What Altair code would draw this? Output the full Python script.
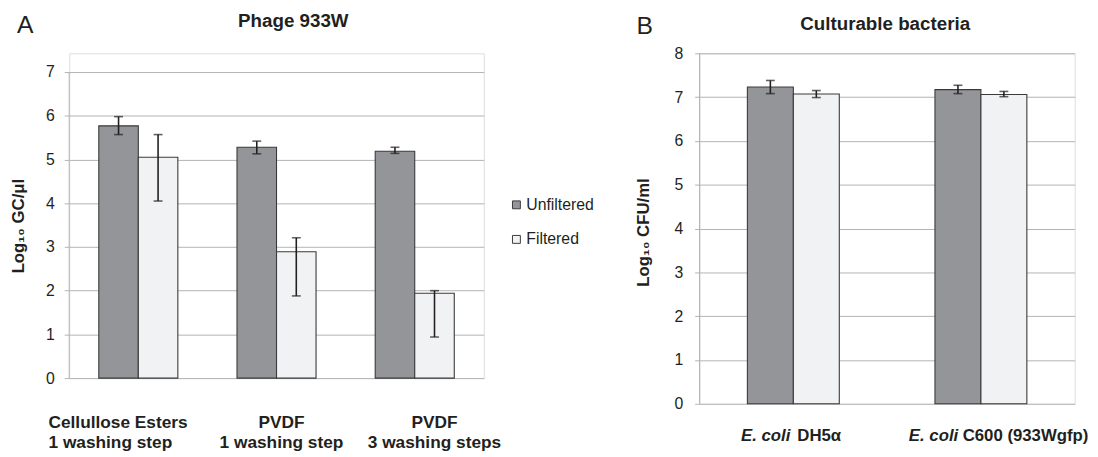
import altair as alt
import pandas as pd

FONT = "Liberation Sans"
INK = "#231f20"
GRID = "#b3b3b3"
BARSTROKE = "#3a3a3a"
SERIES = ["Unfiltered", "Filtered"]
FILLS = ["#939598", "#f1f2f3"]

# ---------------- Panel A data ----------------
a_groups = ["CE1", "PVDF1", "PVDF3"]
a_labels = ["Cellullose Esters\n1 washing step", "PVDF\n1 washing step", "PVDF\n3 washing steps"]
a_unf = [5.77, 5.28, 5.19]
a_unf_lo = [5.57, 5.13, 5.14]
a_unf_hi = [5.98, 5.42, 5.28]
a_fil = [5.05, 2.89, 1.94]
a_fil_lo = [4.05, 1.88, 0.94]
a_fil_hi = [5.57, 3.21, 2.00]
a_ticks = [0, 1, 2, 3, 4, 5, 6, 7]

# ---------------- Panel B data ----------------
b_groups = ["DH5a", "C600"]
b_italic = ["E. coli", "E. coli"]
b_rest = ["DH5α", "C600 (933Wgfp)"]
b_unf = [7.23, 7.17]
b_unf_lo = [7.08, 7.08]
b_unf_hi = [7.38, 7.27]
b_fil = [7.07, 7.06]
b_fil_lo = [6.99, 7.01]
b_fil_hi = [7.15, 7.13]
b_ticks = [0, 1, 2, 3, 4, 5, 6, 7, 8]


def long_table(groups, unf, ulo, uhi, fil, flo, fhi):
    rows = []
    for i, g in enumerate(groups):
        rows.append(dict(group=g, series=SERIES[0], value=unf[i], lo=ulo[i], hi=uhi[i]))
        rows.append(dict(group=g, series=SERIES[1], value=fil[i], lo=flo[i], hi=fhi[i]))
    return pd.DataFrame(rows)


dfA = long_table(a_groups, a_unf, a_unf_lo, a_unf_hi, a_fil, a_fil_lo, a_fil_hi)
dfB = long_table(b_groups, b_unf, b_unf_lo, b_unf_hi, b_fil, b_fil_lo, b_fil_hi)
labA = pd.DataFrame({"group": a_groups, "label": a_labels})
labB = pd.DataFrame({"group": b_groups, "it": b_italic, "rest": b_rest})


def bars_layer(df, groups, pin, pout, ydom, ticks, ytitle, tpad, lpad, title_y, legend):
    xenc = alt.X("group:N", sort=groups, axis=None,
                 scale=alt.Scale(paddingInner=pin, paddingOuter=pout))
    xoff = alt.XOffset("series:N", sort=SERIES,
                       scale=alt.Scale(paddingInner=0, paddingOuter=0))
    yaxis = alt.Axis(values=ticks, title=ytitle, grid=True, gridColor=GRID,
                     domain=False, tickColor=GRID, tickSize=5,
                     labelFont=FONT, labelFontSize=16, labelColor=INK,
                     labelPadding=lpad, titleFont=FONT, titleFontSize=17,
                     titleFontWeight="bold", titleColor=INK, titlePadding=tpad,
                     titleY=title_y)
    base = alt.Chart(df).encode(x=xenc, xOffset=xoff)
    bars = base.mark_bar(stroke=BARSTROKE, strokeWidth=1.1).encode(
        y=alt.Y("value:Q", scale=alt.Scale(domain=ydom, nice=False, zero=True), axis=yaxis),
        color=alt.Color("series:N", sort=SERIES,
                        scale=alt.Scale(domain=SERIES, range=FILLS), legend=legend),
    )
    rule = base.mark_rule(color=INK, strokeWidth=1.6).encode(y="lo:Q", y2="hi:Q")
    cap_lo = base.mark_tick(color=INK, thickness=1.6, size=9).encode(y="lo:Q")
    cap_hi = base.mark_tick(color=INK, thickness=1.6, size=9).encode(y="hi:Q")
    # vertical axis line spanning only the tick range
    axis_line = alt.Chart(pd.DataFrame({"a": [ticks[0]], "b": [ticks[-1]]})).mark_rule(
        color=GRID, strokeWidth=1).encode(x=alt.value(0), y="a:Q", y2="b:Q")
    return [bars, axis_line, rule, cap_lo, cap_hi], xenc


def note(text, x, y, size, weight="normal"):
    return alt.Chart(pd.DataFrame({"t": [text]})).mark_text(
        font=FONT, fontSize=size, fontWeight=weight, color=INK, align="center",
        baseline="alphabetic").encode(text="t:N", x=alt.value(x), y=alt.value(y))


# ---------------- Panel A ----------------
WA, HA = 420, 329
legA = alt.Legend(title=None, orient="none", legendX=445, legendY=145.5,
                  symbolType="square", symbolSize=64, symbolStrokeColor=BARSTROKE,
                  symbolStrokeWidth=1, labelFont=FONT, labelFontSize=16,
                  labelColor=INK, labelOffset=2, rowPadding=19, padding=0)
layersA, xA = bars_layer(dfA, a_groups, 0.428, 0.214, [0, 7.429], a_ticks,
                         "Log₁₀ GC/μl", 18, 10, 174.5, legA)
textA = []
for g, al, dx in zip(a_groups, ["left", "center", "center"], [-91, 5, 20]):
    textA.append(
        alt.Chart(labA).transform_filter(alt.datum.group == g).mark_text(
            font=FONT, fontSize=17.5, fontWeight="bold", color=INK, align=al,
            dx=dx, baseline="alphabetic", lineBreak="\n", lineHeight=20,
        ).encode(x=xA, y=alt.value(HA + 50.7), text="label:N")
    )
panelA = alt.layer(
    *layersA, *textA,
    note("Phage 933W", 227, -27, 19, "bold"),
    note("A", -44.5, -20.3, 25),
).properties(width=WA, height=HA)

# ---------------- Panel B ----------------
WB, HB = 380, 355
layersB, xB = bars_layer(dfB, b_groups, 0.51, 0.255, [0, 8], b_ticks,
                         "Log₁₀ CFU/ml", 22, 12, 181, None)
textB = []
for g, dxi, dxr in zip(b_groups, [-3, -23], [4, -18.5]):
    sub = alt.Chart(labB).transform_filter(alt.datum.group == g)
    textB.append(sub.mark_text(font=FONT, fontSize=17, fontWeight="bold",
                               fontStyle="italic", color=INK, align="right", dx=dxi,
                               baseline="alphabetic")
                 .encode(x=xB, y=alt.value(HB + 38), text="it:N"))
    textB.append(sub.mark_text(font=FONT, fontSize=17, fontWeight="bold",
                               color=INK, align="left", dx=dxr, baseline="alphabetic")
                 .encode(x=xB, y=alt.value(HB + 38), text="rest:N"))
panelB = alt.layer(
    *layersB, *textB,
    note("Culturable bacteria", 188, -23.4, 19, "bold"),
    note("B", -55.5, -20, 25),
).properties(width=WB, height=HB)

chart = (
    alt.hconcat(panelA, panelB, spacing=38.5)
    .resolve_scale(color="independent", x="independent", y="independent",
                   xOffset="independent")
    .resolve_legend(color="independent")
    .properties(padding={"left": 1, "top": 0, "right": 0, "bottom": 0},
                background="white")
    .configure_view(stroke=None)
    .configure(font=FONT)
)

chart.save("out.html", embed_options={"renderer": "svg", "actions": False})
